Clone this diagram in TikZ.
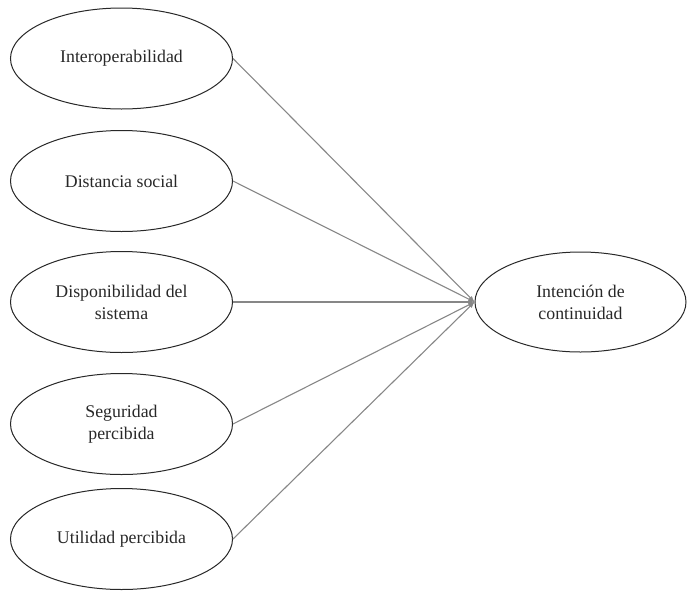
\documentclass[tikz,border=0pt]{standalone}
\usepackage{fontspec}
\setmainfont{Liberation Serif}
\usepackage{xcolor}
\usetikzlibrary{arrows}
\usetikzlibrary{shapes.geometric}
\definecolor{mygray}{RGB}{135,135,135}
\definecolor{mydark}{RGB}{40,40,40}

\begin{document}
\begin{tikzpicture}[x=1pt, y=-1pt,
  construct/.style={ellipse, draw=mydark, line width=1pt, minimum width=222pt, minimum height=101pt, align=center, inner sep=0pt, text=mydark, font=\fontsize{17.8}{22}\selectfont},
  path/.style={-latex, draw=mygray, line width=1.1pt}]
\useasboundingbox (0,0) rectangle (688,590);

 %constructs
 \node[construct] (inter) at (121.5,58.5) {Interoperabilidad};
 \node[construct] (dist) at (121.5,181) {Distancia social};
 \node[construct] (disp) at (121.5,302) {Disponibilidad del\\sistema};
 \node[construct] (seg) at (121.5,424) {Seguridad\\percibida};
 \node[construct] (util) at (121.5,539) {Utilidad percibida};
 \node[construct, minimum width=211pt, minimum height=100pt] (inten) at (580.5,302) {Intención de\\continuidad};

 %paths
 \foreach \src in {inter, dist, disp, seg, util}
   \draw[path] (\src.east) -- (inten.west);
\end{tikzpicture}
\end{document}
